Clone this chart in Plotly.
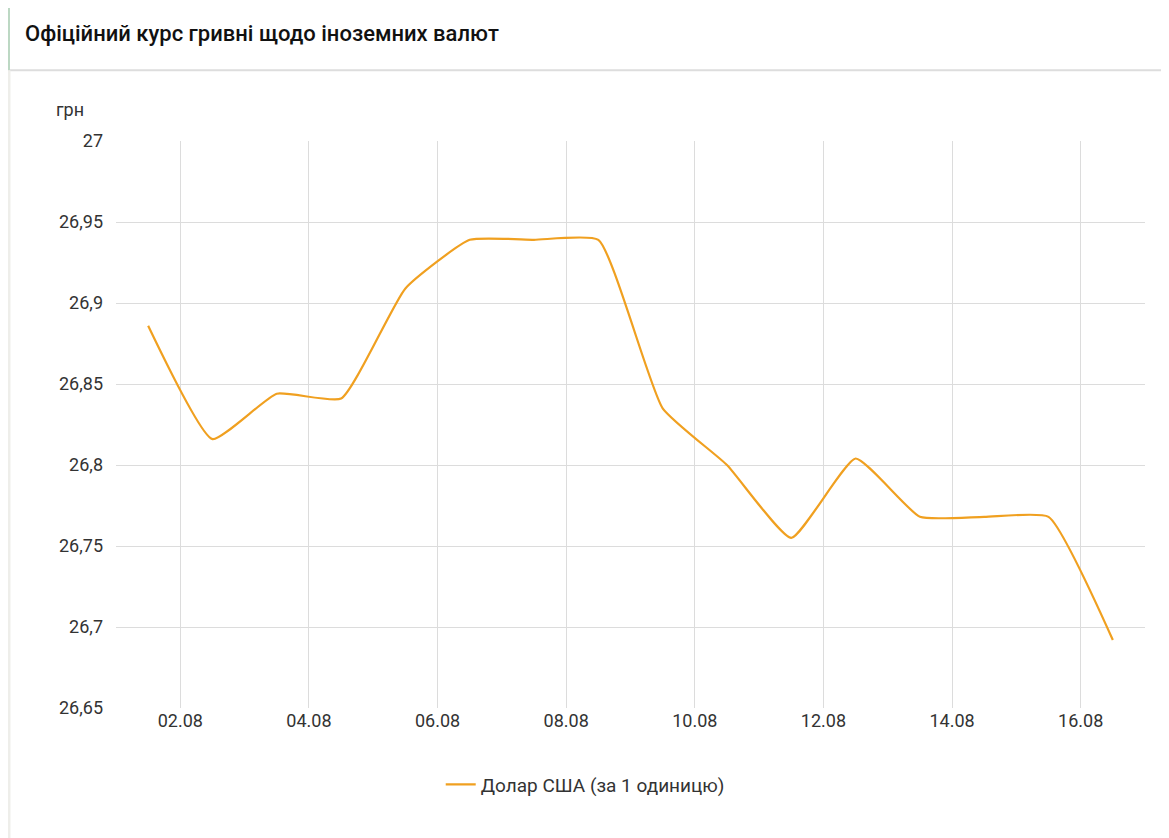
import plotly.graph_objects as go

days = [1.5,2.5,3.5,4.5,5.5,6.5,7.5,8.5,9.5,10.5,11.5,12.5,13.5,14.5,15.5,16.5]
usd = [26.886,26.816,26.844,26.841,26.909,26.939,26.939,26.939,26.835,26.800,26.755,26.804,26.768,26.768,26.768,26.692]
tick_vals = [2,4,6,8,10,12,14,16]
tick_text = ["02.08","04.08","06.08","08.08","10.08","12.08","14.08","16.08"]
y_ticks = [26.65,26.7,26.75,26.8,26.85,26.9,26.95,27]
y_text = ["26,65","26,7","26,75","26,8","26,85","26,9","26,95","27"]

fig = go.Figure(go.Scatter(x=days, y=usd, mode="lines", name="Долар США (за 1 одиницю)",
    line=dict(color="#F0A020", width=2.2, shape="spline", smoothing=0.45)))

fig.update_layout(
    width=1169, height=838, paper_bgcolor="white", plot_bgcolor="white",
    margin=dict(l=108, r=32, t=133, b=138),
    font=dict(family="Roboto", size=18, color="#333"),
    xaxis=dict(range=[1,17], tickvals=tick_vals, ticktext=tick_text, showgrid=True,
               gridcolor="#dcdcdc", zeroline=False, ticks="", tickfont=dict(size=18, color="#333")),
    yaxis=dict(range=[26.65,27], tickvals=y_ticks, ticktext=y_text, showgrid=True,
               gridcolor="#dcdcdc", zeroline=False, ticklabelstandoff=12, tickfont=dict(size=18, color="#333")),
    showlegend=True,
    legend=dict(orientation="h", x=0.456, xanchor="center", y=-0.135, yanchor="middle",
                font=dict(size=19, color="#333")),
    shapes=[
        dict(type="line", xref="paper", yref="paper", x0=-0.106, x1=1.03, y0=1.125, y1=1.125,
             line=dict(color="#dddddd", width=2)),
        dict(type="line", xref="paper", yref="paper", x0=-0.104, x1=-0.104, y0=1.125, y1=1.25,
             line=dict(color="#bcd8c3", width=2)),
        dict(type="line", xref="paper", yref="paper", x0=-0.104, x1=-0.104, y0=-0.23, y1=1.125,
             line=dict(color="#eeeeea", width=3)),
    ],
    annotations=[
        dict(text="Офіційний курс гривні щодо іноземних валют", xref="paper", yref="paper",
             x=-0.09, y=1.19, xanchor="left", yanchor="middle", showarrow=False,
             font=dict(size=22, color="#111", family="Roboto", weight=500)),
        dict(text="грн", xref="paper", yref="paper", x=-0.029, y=1.055, xanchor="right",
             yanchor="middle", showarrow=False, font=dict(size=18, color="#333")),
    ],
)
fig.write_html("out.html")
